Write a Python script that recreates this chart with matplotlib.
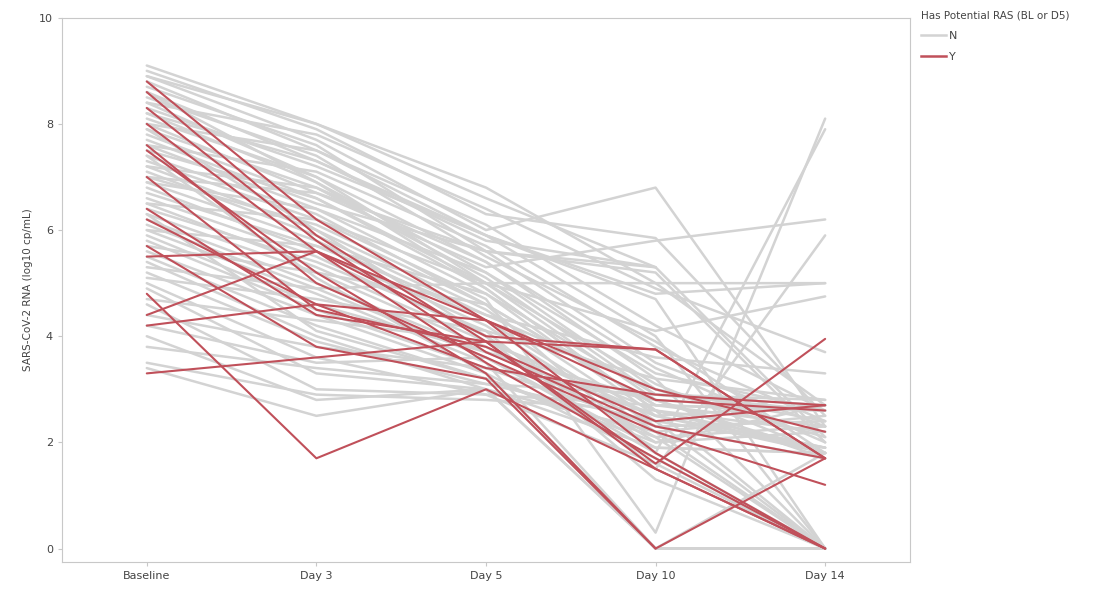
import numpy as np
import matplotlib.pyplot as plt
from matplotlib.lines import Line2D

visits = ["Baseline", "Day 3", "Day 5", "Day 10", "Day 14"]

# log10 cp/mL per patient (nan = no value)
nan = np.nan
no_ras = [
    [9.1, 8.0, 6.8, 5.0, 2.7],
    [9.0, 7.9, 6.3, 5.85, 2.5],
    [8.9, 7.7, 6.0, 6.8, 2.3],
    [8.8, 7.5, 5.9, 4.7, 0.0],
    [8.7, 7.6, 5.6, 5.2, 2.0],
    [8.6, 7.3, 5.8, 5.3, nan],
    [8.5, 7.4, 5.5, 3.9, 1.8],
    [8.4, 7.0, 5.4, 3.2, 2.8],
    [8.3, 7.2, 5.9, 4.8, 5.0],
    [8.2, 6.9, 5.2, 3.0, 2.1],
    [8.1, 7.0, 5.0, 2.8, 1.7],
    [8.0, 6.7, 5.3, 5.8, 6.2],
    [7.9, 6.8, 5.1, 2.9, 2.6],
    [7.8, 6.6, 4.9, 2.6, 0.0],
    [7.7, 6.5, 5.6, 3.5, 2.3],
    [7.6, 6.4, 4.8, 2.5, 1.9],
    [7.5, 6.6, 5.0, 4.1, 4.75],
    [7.4, 6.3, 4.6, 2.7, 2.6],
    [7.3, 6.2, 4.7, 0.3, 8.1],
    [7.2, 6.0, 4.5, 2.4, 0.0],
    [7.1, 5.9, 4.4, 3.0, 2.4],
    [7.0, 6.1, 4.6, 1.8, 7.9],
    [6.9, 5.8, 4.3, 2.3, 1.7],
    [6.8, 5.6, 4.2, 2.2, 0.0],
    [6.7, 5.7, 4.4, 3.6, 3.3],
    [6.6, 5.5, 4.0, 2.0, 2.2],
    [6.5, 5.3, 3.9, 2.6, 1.8],
    [6.4, 5.4, 4.1, 1.5, 5.9],
    [6.3, 5.2, 3.8, 2.1, 0.0],
    [6.2, 5.0, 3.7, 2.5, 2.7],
    [6.1, 4.9, 3.6, 1.9, 1.8],
    [6.0, 4.8, 3.5, 0.0, 0.0],
    [5.9, 4.6, 3.7, 2.8, 2.6],
    [5.8, 4.5, 3.4, 2.3, 2.4],
    [5.6, 4.4, 3.3, 1.7, 0.0],
    [5.5, 4.2, 3.2, 2.0, 2.7],
    [5.4, 4.0, 3.0, 0.0, 0.0],
    [5.2, 3.9, 3.1, 2.4, 1.9],
    [5.0, 3.6, 2.9, 1.6, 0.0],
    [4.9, 3.3, 3.0, 2.2, 2.5],
    [4.6, 3.0, 2.9, 2.7, 2.6],
    [4.4, 3.8, 3.4, 2.8, 1.8],
    [4.2, 3.5, 3.6, 1.8, 0.0],
    [4.0, 2.8, 3.0, 0.0, 0.0],
    [3.8, 3.4, 3.1, 2.9, 2.7],
    [3.5, 2.9, 2.8, 2.6, 2.2],
    [3.4, 2.5, 3.0, 1.9, 1.8],
    [8.9, 8.0, 6.6, 5.3, nan],
    [8.4, 7.8, 6.4, 4.9, 3.7],
    [8.0, 7.5, 6.1, 4.2, 2.6],
    [7.6, 7.1, 5.7, 3.8, 2.4],
    [7.2, 6.8, 5.4, 3.4, 2.0],
    [6.9, 6.4, 5.2, 3.3, 2.6],
    [6.5, 6.2, 5.0, 3.1, 1.8],
    [6.0, 5.7, 4.8, 2.9, 2.8],
    [5.7, 5.2, 4.6, 2.7, 2.3],
    [5.1, 4.7, 4.1, 3.2, 0.0],
    [4.7, 4.3, 3.9, 2.5, 1.8],
    [7.9, 6.0, 4.0, 1.3, 0.0],
    [8.6, 6.9, 4.9, 2.6, 1.9],
    [7.4, 5.1, 3.3, 0.0, 1.8],
    [6.3, 4.1, 3.2, 2.1, 2.3],
    [8.2, 7.3, 5.9, 4.0, 0.0],
    [7.0, 6.7, 5.6, 5.3, 2.1],
    [5.3, 4.9, 5.0, 5.0, 5.0],
]

has_ras = [
    [8.8, 6.2, 4.3, 1.8, 0.0],
    [8.6, 5.9, 3.9, 1.5, 0.0],
    [8.3, 5.8, 3.7, 2.3, 1.7],
    [8.0, 5.6, 3.5, 1.7, 0.0],
    [7.5, 5.2, 3.3, 0.0, 1.7],
    [7.0, 4.5, 3.8, 2.4, 2.7],
    [6.4, 4.4, 3.9, 1.6, 3.95],
    [6.2, 4.6, 3.4, 2.9, 2.7],
    [5.7, 3.8, 3.2, 0.0, nan],
    [5.5, 5.6, 4.0, 3.75, 1.7],
    [4.8, 1.7, 3.0, 1.5, 0.0],
    [4.4, 5.6, 4.3, 2.8, 2.6],
    [4.2, 4.6, 4.3, 3.0, 2.2],
    [3.3, 3.6, 3.9, 3.75, 1.7],
    [7.6, 5.0, 3.6, 2.2, 1.2],
]

grey = "#d3d3d3"
red = "#c0505a"

fig = plt.figure(figsize=(11.07, 5.92), dpi=100)
ax = fig.add_axes([0.056, 0.051, 0.766, 0.919])

x = np.arange(len(visits))
for row in no_ras:
    ax.plot(x, row, color=grey, linewidth=1.8, solid_capstyle="round")
for row in has_ras:
    ax.plot(x, row, color=red, linewidth=1.5, solid_capstyle="round")

ax.set_xlim(-0.5, 4.5)
ax.set_ylim(-0.25, 10)
ax.set_xticks(x)
ax.set_xticklabels(visits)
ax.set_yticks([0, 2, 4, 6, 8, 10])
ax.set_ylabel("SARS-CoV-2 RNA (log10 cp/mL)", fontsize=7.5, color="#444444")
for s in ax.spines.values():
    s.set_color("#c8c8c8")
ax.tick_params(colors="#c8c8c8", labelcolor="#444444", labelsize=8, length=3)

handles = [Line2D([], [], color=grey, linewidth=1.8),
           Line2D([], [], color=red, linewidth=1.8)]
leg = fig.legend(handles, ["N", "Y"], title="Has Potential RAS (BL or D5)",
                 loc="upper left", bbox_to_anchor=(0.823, 1.0), frameon=False,
                 fontsize=8, title_fontsize=7.5, handlelength=2.2,
                 handletextpad=0.3, labelspacing=1.0, alignment="left")
leg.get_title().set_color("#444444")
for t in leg.get_texts():
    t.set_color("#444444")

fig.savefig("out.png", dpi=100)
